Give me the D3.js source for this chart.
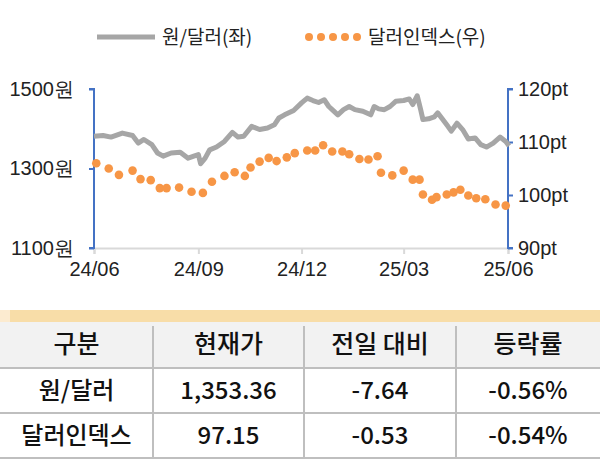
<!DOCTYPE html><html><head><meta charset="utf-8"><script src="https://cdn.jsdelivr.net/npm/d3@7"></script>
<style>body{margin:0;background:#fff}svg{font-family:"Noto Sans CJK KR","Noto Sans",sans-serif}</style></head><body><svg id="c" width="600" height="461"></svg>
<script>
const baseDate = new Date(2024,5,1);
const krwDays = [0,8,15,25,34,39,44,51,56,61,68,76,83,88,92,94,98,102,108,115,122,127,132,139,146,153,159,163,168,176,183,188,193,198,203,207,210,215,220,225,230,237,244,247,251,256,261,266,273,278,281,285,288,290,295,300,303,307,312,315,320,325,330,336,341,346,352,358,363,366];
const krwVals = [1381,1383,1379,1389,1383,1364,1373,1360,1339,1331,1339,1341,1326,1331,1335,1312,1326,1347,1354,1368,1391,1379,1381,1406,1398,1402,1410,1427,1435,1446,1465,1477,1471,1466,1473,1456,1448,1435,1448,1456,1448,1444,1435,1456,1450,1448,1456,1469,1471,1475,1461,1483,1448,1423,1425,1430,1440,1425,1406,1394,1414,1398,1374,1377,1360,1354,1364,1379,1368,1357];
const dxyDays = [2,13,22,34,41,50,58,64,75,86,96,104,115,124,133,138,146,154,161,170,177,188,195,202,210,219,225,234,242,250,253,263,273,281,287,290,298,302,311,317,323,330,337,345,354,363];
const dxyVals = [106.0,105.0,103.8,104.6,103.0,102.8,101.3,101.3,101.4,100.6,100.4,102.5,103.6,104.3,103.6,105.2,106.3,107.0,106.4,107.1,107.9,108.4,108.4,109.4,108.2,108.2,107.7,106.8,106.7,107.3,104.2,103.7,104.6,102.9,102.9,100.1,99.1,99.6,100.1,100.5,101.0,99.9,99.4,99.2,98.2,98.0];
const xTickLabels = ["24/06","24/09","24/12","25/03","25/06"];
const xTickDates = [new Date(2024,5,1),new Date(2024,8,1),new Date(2024,11,1),new Date(2025,2,1),new Date(2025,5,1)];
const leftTicks = [1100,1300,1500];
const rightTicks = [90,100,110,120];
const tableHeader = ["구분","현재가","전일 대비","등락률"];
const tableRows = [["원/달러","1,353.36","-7.64","-0.56%"],["달러인덱스","97.15","-0.53","-0.54%"]];

const d = n => d3.timeDay.offset(baseDate, n);
const svg = d3.select("#c");
const L=94,R=508,T=89,B=248;
const x = d3.scaleTime().domain([xTickDates[0], xTickDates[4]]).range([L,R]);
const yL = d3.scaleLinear().domain([1100,1500]).range([B,T]);
const yR = d3.scaleLinear().domain([90,120]).range([B,T]);
const blue="#4472C4";

const gx = svg.append("g").attr("transform",`translate(0,${B})`)
  .call(d3.axisBottom(x).tickValues(xTickDates).tickFormat((v,i)=>xTickLabels[i]).tickSize(6).tickPadding(8));
gx.select(".domain").attr("stroke","#d9d9d9").attr("stroke-width",2);
gx.selectAll(".tick line").attr("stroke","#d9d9d9").attr("stroke-width",2);
gx.selectAll("text").attr("font-size",20).attr("fill","#222");

const gl = svg.append("g").attr("transform",`translate(${L},0)`)
  .call(d3.axisLeft(yL).tickValues(leftTicks).tickFormat(v=>v+"원").tickSize(5).tickPadding(15));
gl.selectAll(".domain,.tick line").attr("stroke",blue).attr("stroke-width",2);
gl.select(".domain").attr("d",`M-5,${T}H0V${B}H-5`);
gl.selectAll("text").attr("font-size",20).attr("fill","#222");

const gr = svg.append("g").attr("transform",`translate(${R},0)`)
  .call(d3.axisRight(yR).tickValues(rightTicks).tickFormat(v=>v+"pt").tickSize(5).tickPadding(5));
gr.selectAll(".domain,.tick line").attr("stroke",blue).attr("stroke-width",2);
gr.select(".domain").attr("d",`M5,${T}H0V${B}H5`);
gr.selectAll("text").attr("font-size",20).attr("fill","#222");

svg.append("path").datum(krwDays.map((v,i)=>[v,krwVals[i]]))
  .attr("d",d3.line().x(p=>x(d(p[0]))).y(p=>yL(p[1])))
  .attr("fill","none").attr("stroke","#a6a6a6").attr("stroke-width",5).attr("stroke-linejoin","round");
svg.append("g").selectAll("circle").data(dxyDays).join("circle")
  .attr("cx",v=>x(d(v))).attr("cy",(v,i)=>yR(dxyVals[i])).attr("r",4.3).attr("fill","#F79646");

svg.append("line").attr("x1",97).attr("x2",155).attr("y1",37).attr("y2",37).attr("stroke","#a6a6a6").attr("stroke-width",5);
svg.append("text").attr("x",162).attr("y",44).attr("font-size",19).attr("fill","#222").text("원/달러(좌)");
svg.append("g").selectAll("circle").data([0,1,2,3,4]).join("circle").attr("cx",k=>309+k*12).attr("cy",37).attr("r",4).attr("fill","#F79646");
svg.append("text").attr("x",368).attr("y",44).attr("font-size",19).attr("fill","#222").text("달러인덱스(우)");

svg.append("rect").attr("x",10).attr("y",310).attr("width",590).attr("height",12).attr("fill","#F8DDA8");
svg.append("rect").attr("x",0).attr("y",310).attr("width",10).attr("height",12).attr("fill","#FCEBD0");
svg.append("rect").attr("x",0).attr("y",322).attr("width",600).attr("height",46).attr("fill","#f2f2f2");
const colX=[0,153,304,456,600], rowY=[322,368,413,458];
const grid="#bfbfbf";
[368,413,458].forEach(y=>svg.append("line").attr("x1",0).attr("x2",600).attr("y1",y).attr("y2",y).attr("stroke",grid).attr("stroke-width",2));
colX.slice(1,4).forEach(cx=>svg.append("line").attr("x1",cx).attr("x2",cx).attr("y1",326).attr("y2",458).attr("stroke",grid).attr("stroke-width",2));
[tableHeader,...tableRows].forEach((row,r)=>row.forEach((t,c)=>{
  svg.append("text").attr("x",(colX[c]+colX[c+1])/2).attr("y",(rowY[r]+rowY[r+1])/2+8)
    .attr("text-anchor","middle").attr("font-size",r===0?25:24).attr("font-weight",500).attr("fill","#111").text(t);
}));
</script></body></html>
